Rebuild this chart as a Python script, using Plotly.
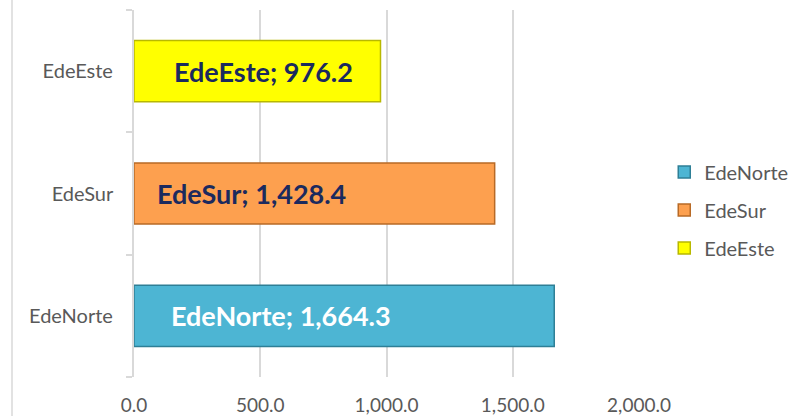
import plotly.graph_objects as go

categories = ["EdeNorte", "EdeSur", "EdeEste"]
values = [1664.3, 1428.4, 976.2]
x_ticks = [0, 500, 1000, 1500, 2000]
x_tick_labels = ["0.0", "500.0", "1,000.0", "1,500.0", "2,000.0"]

fills = ["#4DB5D3", "#FDA04F", "#FFFF00"]
edges = ["#2E7F96", "#B86A26", "#B8B800"]
label_colors = ["#FFFFFF", "#1B2A5E", "#1B2A5E"]
label_shift = [35, 21, 38]

fig = go.Figure()
for cat, val, fc, ec in zip(categories, values, fills, edges):
    fig.add_trace(go.Bar(
        y=[cat], x=[val], orientation="h", name=cat, legendgroup=cat,
        marker=dict(color=fc, line=dict(color=ec, width=1.5)),
        width=0.5, hoverinfo="skip",
    ))

for cat, val, col, sh in zip(categories, values, label_colors, label_shift):
    fig.add_annotation(
        x=0, y=cat, xref="x", yref="y", xanchor="left", yanchor="middle",
        xshift=sh, showarrow=False,
        text=f"<b>{cat}; {val:,.1f}</b>",
        font=dict(family="Lato", size=27, color=col),
    )

# chart frame left edge
fig.add_shape(type="line", xref="paper", yref="paper",
              x0=-122/505, x1=-122/505, y0=-1, y1=2,
              line=dict(color="#D9D9D9", width=1.5))

fig.update_layout(
    width=800, height=416,
    margin=dict(l=134, r=161, t=10, b=39, autoexpand=False),
    paper_bgcolor="white", plot_bgcolor="white",
    barmode="overlay",
    font=dict(family="Lato", color="#595959", size=18),
    showlegend=True,
    legend=dict(x=1.05, y=0.455, xanchor="left", yanchor="middle",
                traceorder="grouped", tracegroupgap=9,
                font=dict(size=20, color="#595959"), itemwidth=30),
    xaxis=dict(range=[0, 2000], tickvals=x_ticks, ticktext=x_tick_labels,
               showgrid=True, gridcolor="#D9D9D9", gridwidth=1.5,
               zeroline=False, showline=False, ticks="outside",
               ticklen=11, tickcolor="rgba(0,0,0,0)",
               tickfont=dict(size=19, color="#595959")),
    yaxis=dict(categoryorder="array", categoryarray=categories,
               showline=True, linecolor="#D9D9D9", linewidth=1.5,
               ticks="outside", tickson="boundaries", ticklen=6,
               tickcolor="#D9D9D9", tickwidth=1.5,
               showgrid=False, tickfont=dict(size=20, color="#595959"),
               ticksuffix="   "),
)

fig.write_html("out.html")
